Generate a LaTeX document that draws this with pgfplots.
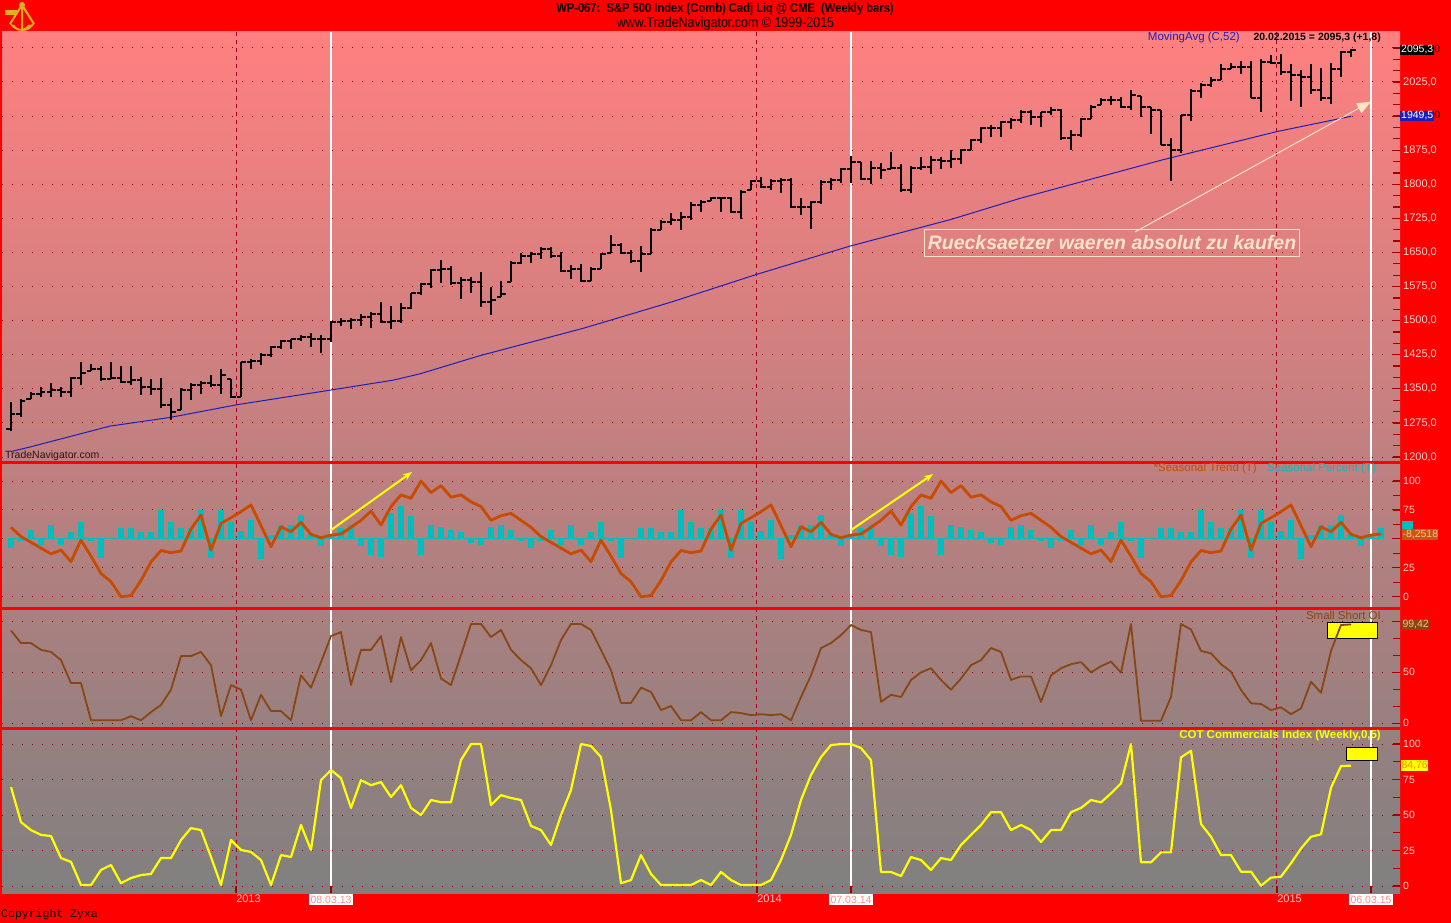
\documentclass[border=0pt]{standalone}
\usepackage{pgfplots}
\pgfplotsset{compat=1.18}
\usepackage{pgfplotstable}
\usetikzlibrary{arrows.meta}
\usepackage{fontspec}
\setmainfont{Liberation Sans}
\newfontfamily\narrowfont[FakeStretch=0.86]{Liberation Sans}
\newfontfamily\monofont{Liberation Mono}
\newcommand\fsz[1]{\fontsize{#1}{#1}\selectfont}
\setlength{\fboxsep}{1pt}

\definecolor{bgred}{RGB}{255,0,0}
\definecolor{toppink}{RGB}{255,128,128}
\definecolor{botgray}{RGB}{128,128,128}
\definecolor{tickred}{RGB}{165,0,0}
\definecolor{gridred}{RGB}{150,0,0}
\definecolor{dashred}{RGB}{170,0,30}
\definecolor{ticklab}{RGB}{255,212,212}
\definecolor{mablue}{RGB}{30,30,190}
\definecolor{seasorange}{RGB}{200,75,0}
\definecolor{seascyan}{RGB}{0,190,190}
\definecolor{oibrown}{RGB}{135,70,20}
\definecolor{cotyellow}{RGB}{255,255,0}
\definecolor{cream}{RGB}{255,228,200}
\definecolor{datepink}{RGB}{255,140,140}
\definecolor{gold}{RGB}{225,175,30}

\pgfdeclareplotmark{closetick}{%
  \pgfpathmoveto{\pgfqpoint{0pt}{0pt}}%
  \pgfpathlineto{\pgfqpoint{4.5pt}{0pt}}%
  \pgfusepathqstroke}
\pgfdeclareplotmark{opentick}{%
  \pgfpathmoveto{\pgfqpoint{0pt}{0pt}}%
  \pgfpathlineto{\pgfqpoint{-4.5pt}{0pt}}%
  \pgfusepathqstroke}

\pgfplotsset{
 panel/.style={
  scale only axis, width=1398pt,
  xmin=-0.9, xmax=138.9,
  axis line style={draw=none},
  xtick=\empty,
  ytick pos=right, yticklabel pos=right,
  tick align=inside,
  major tick length=7pt, minor tick length=7pt,
  tick style={draw=tickred, line width=1.2pt},
  ymajorgrids,
  major grid style={draw=gridred, line width=1pt, dash pattern=on 1pt off 9pt},
  yticklabel style={font=\fsz{10.5}, text=ticklab, inner sep=3pt},
  /pgf/number format/assume math mode=true,
  /pgf/number format/1000 sep={},
 }
}

\pgfplotstableread{
x o h l c
0 1262 1320 1258 1295
1 1295 1328 1287 1323
2 1328 1342 1328 1338
3 1338 1354 1333 1342
4 1342 1363 1333 1347
5 1347 1354 1333 1344
6 1344 1376 1333 1374
7 1374 1410 1358 1384
8 1390 1405 1390 1394
9 1394 1401 1367 1372
10 1372 1408 1371 1374
11 1374 1401 1364 1366
12 1366 1401 1358 1370
13 1370 1376 1336 1354
14 1354 1372 1336 1350
15 1350 1374 1307 1315
16 1315 1329 1282 1300
17 1304 1351 1304 1347
18 1347 1362 1325 1358
19 1358 1367 1338 1362
20 1362 1381 1354 1358
21 1358 1394 1338 1380
22 1372 1372 1330 1333
23 1333 1410 1333 1408
24 1408 1416 1393 1412
25 1412 1429 1403 1424
26 1424 1444 1421 1441
27 1441 1458 1437 1455
28 1455 1460 1437 1459
29 1459 1468 1455 1465
30 1465 1473 1443 1460
31 1460 1468 1429 1460
32 1460 1499 1453 1496
33 1496 1506 1489 1499
34 1499 1506 1481 1502
35 1502 1515 1489 1509
36 1509 1518 1484 1515
37 1515 1542 1495 1497
38 1497 1532 1482 1499
39 1499 1538 1494 1527
40 1527 1561 1525 1560
41 1560 1582 1556 1580
42 1580 1614 1571 1612
43 1612 1633 1582 1614
44 1614 1621 1578 1582
45 1582 1595 1547 1589
46 1589 1597 1560 1585
47 1585 1606 1529 1540
48 1540 1573 1512 1545
49 1551 1587 1551 1558
50 1584 1631 1584 1627
51 1627 1648 1624 1643
52 1643 1651 1627 1646
53 1646 1662 1635 1657
54 1657 1662 1638 1642
55 1642 1651 1607 1609
56 1609 1622 1591 1613
57 1613 1624 1584 1587
58 1587 1619 1587 1613
59 1613 1648 1613 1646
60 1649 1689 1649 1667
61 1667 1671 1646 1649
62 1649 1655 1627 1631
63 1631 1664 1606 1646
64 1646 1704 1646 1700
65 1700 1721 1700 1718
66 1718 1737 1711 1722
67 1722 1740 1700 1729
68 1729 1760 1722 1755
69 1755 1766 1740 1762
70 1764 1773 1764 1769
71 1769 1772 1740 1769
72 1769 1773 1738 1740
73 1740 1788 1724 1784
74 1788 1810 1788 1808
75 1808 1817 1791 1795
76 1795 1811 1788 1808
77 1808 1813 1780 1810
78 1810 1813 1750 1751
79 1751 1769 1733 1751
80 1751 1764 1702 1762
81 1762 1810 1757 1806
82 1806 1813 1788 1810
83 1810 1835 1802 1833
84 1833 1862 1802 1850
85 1850 1850 1809 1811
86 1811 1852 1801 1835
87 1835 1846 1811 1831
88 1833 1871 1833 1835
89 1835 1844 1784 1788
90 1788 1840 1780 1835
91 1835 1859 1831 1837
92 1837 1862 1823 1853
93 1853 1859 1833 1852
94 1852 1876 1836 1855
95 1855 1878 1844 1876
96 1876 1900 1875 1898
97 1898 1927 1891 1924
98 1924 1931 1904 1924
99 1924 1940 1905 1938
100 1938 1945 1921 1942
101 1942 1963 1934 1960
102 1960 1963 1931 1949
103 1949 1960 1927 1958
104 1958 1971 1953 1963
105 1963 1965 1897 1902
106 1902 1920 1876 1909
107 1909 1945 1905 1943
108 1943 1974 1943 1971
109 1974 1989 1974 1985
110 1985 1994 1974 1985
111 1985 1993 1967 1969
112 1969 2007 1963 1996
113 1994 1994 1949 1969
114 1969 1971 1911 1963
115 1963 1963 1887 1887
116 1887 1902 1807 1876
117 1876 1953 1868 1953
118 1953 2009 1940 2006
119 2006 2023 1989 2018
120 2018 2035 2014 2030
121 2030 2065 2030 2054
122 2054 2067 2054 2058
123 2058 2071 2043 2059
124 2059 2071 1989 1989
125 1989 2076 1960 2069
126 2069 2085 2065 2067
127 2067 2087 2040 2047
128 2047 2064 1984 2040
129 2040 2051 1971 2036
130 2036 2064 1998 2007
131 2007 2056 1984 1989
132 1989 2067 1977 2054
133 2054 2093 2036 2091
134 2091 2098 2080 2095
}\ohlc

\pgfplotstableread{
x s p
0 60 42
1 52 48
2 47 58
3 42 45
4 37 62
5 40.3 44.7
6 30.3 55.6
7 49 64.8
8 35 48
9 20 33.7
10 13 51
11 0 59.7
12 1 59.7
13 14 55.6
14 30 55.6
15 40 74.9
16 38 64.8
17 39.5 59.7
18 58.5 59.7
19 70.6 74.9
20 40.3 33.7
21 63.4 74.9
22 68.3 64.8
23 73.5 56.8
24 79.3 66.3
25 61.4 32.6
26 43.2 53.3
27 60.5 62
28 56.2 62
29 64.3 70.6
30 53.9 53.9
31 51 44.1
32 53.3 53.3
33 54.2 59.7
34 60 62
35 66 44
36 74 36
37 62 34
38 78 72
39 88 78
40 85 70
41 100 36
42 90 62
43 96 60
44 86 58
45 88 56
46 82 46
47 78 45
48 66 60
49 70 62
50 72 58
51 66 48
52 60 42
53 52 48
54 47 58
55 42 45
56 37 62
57 40.3 44.7
58 30.3 55.6
59 49 64.8
60 35 48
61 20 33.7
62 13 51
63 0 59.7
64 1 59.7
65 14 55.6
66 30 55.6
67 40 74.9
68 38 64.8
69 39.5 59.7
70 58.5 59.7
71 70.6 74.9
72 40.3 33.7
73 63.4 74.9
74 68.3 64.8
75 73.5 56.8
76 79.3 66.3
77 61.4 32.6
78 43.2 53.3
79 60.5 62
80 56.2 62
81 64.3 70.6
82 53.9 53.9
83 51 44.1
84 53.3 53.3
85 54.2 59.7
86 60 62
87 66 44
88 74 36
89 62 34
90 78 72
91 88 78
92 85 70
93 100 36
94 90 62
95 96 60
96 86 58
97 88 56
98 82 46
99 78 45
100 66 60
101 70 62
102 72 58
103 66 48
104 60 42
105 52 48
106 47 58
107 42 45
108 37 62
109 40.3 44.7
110 30.3 55.6
111 49 64.8
112 35 48
113 20 33.7
114 13 51
115 0 59.7
116 1 59.7
117 14 55.6
118 30 55.6
119 40 74.9
120 38 64.8
121 39.5 59.7
122 58.5 59.7
123 70.6 74.9
124 40.3 33.7
125 63.4 74.9
126 68.3 64.8
127 73.5 56.8
128 79.3 66.3
129 61.4 32.6
130 43.2 53.3
131 60.5 62
132 56.2 62
133 64.3 70.6
134 53.9 53.9
135 51 44.1
136 53.3 53.3
137 54.2 59.7
}\seas

\pgfplotstableread{
x oi cot
0 91 69.7
1 78.7 45
2 78.7 39.4
3 72 36
4 70 35.2
5 62 19.7
6 39.5 17
7 39.5 0.7
8 3 0.7
9 3 11.3
10 3 14.8
11 3 2
12 7 5.6
13 3 7.7
14 11 8.5
15 18 19.7
16 33 19.7
17 66 32.4
18 66 40.8
19 70 39.4
20 57 20.4
21 7 0.7
22 37.5 32.4
23 33 25.4
24 3 24
25 28 18.3
26 12 0.7
27 12 21.8
28 3 20.4
29 47 43
30 35 25.4
31 60 74.6
32 85.6 81.7
33 89.5 76
34 37.5 55
35 72 74.6
36 72 71
37 85.6 73.2
38 40.5 62.7
39 84.6 71
40 52 55
41 62 50
42 78.7 60.6
43 44 59
44 37.5 59
45 67 88.7
46 97.4 100
47 97.4 100
48 84.6 57
49 91.5 64
50 72 62
51 62 60.6
52 54 42.3
53 37.5 39.4
54 57 28.9
55 81.7 50
56 97.4 67.6
57 97.4 100
58 91.5 98.6
59 72 90.8
60 52 53.5
61 20 2
62 20 4.2
63 35 21.8
64 30.7 8.5
65 13 0.7
66 17 0.7
67 3 0.7
68 3 0.7
69 11 4.2
70 3 0.7
71 3 9.9
72 11 4.2
73 10 0.7
74 8 0.7
75 9 0.7
76 8 4.2
77 9 18.3
78 3 36
79 25.8 60.6
80 47 78.2
81 73.8 90.8
82 78.7 99.3
83 86.5 100
84 96.4 100
85 91.5 97.2
86 89.5 88.7
87 21 9.9
88 28 9.9
89 25.8 7
90 42.5 20.4
91 50 18.3
92 54 11.3
93 42.5 19.7
94 33 18.3
95 44 28.9
96 57 36
97 62 43
98 73.8 52
99 70 52
100 42.5 39.4
101 46 43
102 46 39.4
103 21 31
104 47 39.4
105 54 39.4
106 58 52
107 60 55
108 50 60.6
109 56 58.9
110 60.5 65.3
111 49.7 72.3
112 97.4 100
113 2.6 16.7
114 2.6 16.7
115 2.6 23.7
116 26 23.7
117 97.4 90.6
118 92 95.3
119 71 43.7
120 68.6 34.7
121 58 21.8
122 50.6 21.8
123 32.7 10.1
124 19.6 10.1
125 19 0.2
126 13 5.9
127 15.7 6.6
128 9 16
129 14.7 26.5
130 40.8 34.7
131 30 36.4
132 71 69.2
133 96.4 84.5
134 97 84.76
}\ind

\begin{document}
\begin{tikzpicture}
% frame and panel backgrounds
\fill[bgred] (0pt,0pt) rectangle (1451pt,-923pt);
\shade[top color=toppink, bottom color=botgray] (2pt,-32pt) rectangle (1400pt,-893pt);
% sextant logo
\fill[gold] (10pt,-24pt) arc[start angle=210, end angle=330, radius=14pt] -- (28pt,-25pt) arc[start angle=330, end angle=210, radius=8pt] -- cycle;
\draw[gold, line width=2pt] (22pt,-5pt) -- (10pt,-24pt) (22pt,-5pt) -- (34pt,-24pt) (22pt,-5pt) -- (22pt,-31pt);
\fill[gold] (5pt,-10pt) rectangle (17pt,-15pt);
\fill[gold] (22pt,-5pt) circle (3pt);
% year boundaries and date markers
\foreach \xx in {236.5,756.5,1276.5}
  \draw[dashred, line width=1pt, dash pattern=on 4pt off 4pt] (\xx pt,-32pt) -- (\xx pt,-893pt);
\foreach \xx in {331,851,1371}
  \draw[white, line width=2pt] (\xx pt,-32pt) -- (\xx pt,-893pt);
% panel separators
\fill[bgred] (0pt,-461pt) rectangle (1400pt,-464pt);
\fill[bgred] (0pt,-607pt) rectangle (1400pt,-610pt);
\fill[bgred] (0pt,-727pt) rectangle (1400pt,-730pt);
% marker boxes
\filldraw[fill=cotyellow, draw=black, line width=1pt] (1327pt,-622pt) rectangle (1377pt,-638pt);
\filldraw[fill=cotyellow, draw=black, line width=1pt] (1346pt,-747pt) rectangle (1377pt,-760pt);

% ===== price panel =====
\begin{axis}[panel, at={(2pt,-32pt)}, anchor=north west, height=429pt,
  ymin=1191.2, ymax=2135,
  ytick={1200,1275,...,2100}, minor y tick num=2,
  yticklabels={{1200,0},{1275,0},{1350,0},{1425,0},{1500,0},{1575,0},{1650,0},{1725,0},{1800,0},{1875,0},{},{2025,0},{}},
  yticklabel style={font=\fsz{11}},
]
\addplot[mablue, line width=1pt] coordinates {(0,1212) (1.9,1222) (9.9,1268) (15.9,1287) (22.6,1315) (31.9,1347) (38.2,1369) (40.9,1383) (46.9,1423) (57.2,1483) (65.9,1540) (74.6,1602) (83.9,1664) (93.9,1722) (100.9,1769) (115.2,1854) (126.6,1916) (134,1949.5)};
\addplot[draw=none, mark=none,
  error bars/.cd, y dir=both, y explicit, error mark=none,
  error bar style={draw=black, line width=2.8pt}]
  table[x=x, y=c, y error plus expr={\thisrow{h}-\thisrow{c}}, y error minus expr={\thisrow{c}-\thisrow{l}}] {\ohlc};
\addplot[only marks, mark=closetick, mark options={draw=black, line width=2pt}] table[x=x, y=c] {\ohlc};
\addplot[only marks, mark=opentick, mark options={draw=black, line width=2pt}] table[x=x, y=o] {\ohlc};
\draw[cream, line width=1pt, -{Triangle[length=14pt,width=11pt]}] (axis cs:112.4,1695) -- (axis cs:136,1982);
\node[draw=cream, line width=0.8pt, text=cream, font=\bfseries\itshape\fsz{19.5}, inner xsep=3pt, inner ysep=0pt, minimum height=27pt] at (axis cs:110.1,1670.8) {Ruecksaetzer waeren absolut zu kaufen};
\end{axis}

% ===== seasonal panel =====
\begin{axis}[panel, at={(2pt,-464pt)}, anchor=north west, height=143pt,
  ymin=-8.9, ymax=114.7, ytick={0,25,...,100}, yticklabels={0,25,{},75,100}, minor y tick num=1]
\addplot[seascyan, line width=0.8pt, mark=none] coordinates {(-0.3,50) (137.3,50)};
\addplot[draw=none, mark=none,
  error bars/.cd, y dir=both, y explicit, error mark=none,
  error bar style={draw=seascyan, line width=6.5pt}]
  table[x=x, y expr=50, y error plus expr={max(\thisrow{p}-50,0)}, y error minus expr={max(50-\thisrow{p},0)}] {\seas};
\addplot[seasorange, line width=2.8pt, line join=round, mark=none] table[x=x, y=s] {\seas};
\draw[cotyellow, line width=2pt, -{Stealth[length=9pt,width=7pt]}] (axis cs:32,57.6) -- (axis cs:40.1,107.8);
\draw[cotyellow, line width=2pt, -{Stealth[length=9pt,width=7pt]}] (axis cs:84,57.6) -- (axis cs:92.2,106);
\end{axis}

% ===== small short OI panel =====
\begin{axis}[panel, at={(2pt,-610pt)}, anchor=north west, height=117pt,
  ymin=-3.6, ymax=111.1, ytick={0,50,100}, yticklabels={0,50,{}}, minor y tick num=2]
\addplot[oibrown, line width=1.8pt, line join=round, mark=none] table[x=x, y=oi] {\ind};
\end{axis}

% ===== COT panel =====
\begin{axis}[panel, at={(2pt,-730pt)}, anchor=north west, height=163pt,
  ymin=-4.93, ymax=109.9, ytick={0,25,...,100}, minor y tick num=1,
  xtick={22.5,74.6,126.6}, xticklabels={2013,2014,2015}, xtick pos=bottom,
  xticklabel style={anchor=north, font=\fsz{11}, text=ticklab, inner sep=2pt, xshift=12.5pt},
  extra x ticks={32,84,136},
  extra x tick labels={08.03.13,07.03.14,06.03.15},
  extra x tick style={xticklabel style={fill=white, text=datepink, inner sep=1.5pt, font=\fsz{10.5}, xshift=-12.5pt, yshift=-1pt}},
]
\addplot[cotyellow, line width=2.2pt, line join=round, mark=none] table[x=x, y=cot] {\ind};
\end{axis}

% ===== value boxes on the right scale =====
\node[anchor=west, inner sep=0pt, font=\fsz{10.5}] at (1400pt,-50pt) {\colorbox{black}{\textcolor{white}{2095,3}}\textcolor{black}{0}};
\node[anchor=west, inner sep=0pt, font=\fsz{10.5}] at (1400pt,-116pt) {\colorbox{mablue}{\textcolor{white}{1949,5}}\textcolor{black}{0}};
\fill[seascyan] (1402pt,-521pt) rectangle (1413pt,-529pt);
\node[anchor=west, fill={rgb,255:red,200;green,85;blue,20}, text={rgb,255:red,255;green,190;blue,150}, inner xsep=0.3pt, inner ysep=1pt, font=\fsz{10.5}] at (1402pt,-534.5pt) {-8,2518};
\node[anchor=west, fill=oibrown, text={rgb,255:red,255;green,185;blue,120}, inner xsep=0.3pt, inner ysep=1pt, font=\fsz{10.5}] at (1402pt,-624.5pt) {99,42};
\node[anchor=west, fill=cotyellow, text={rgb,255:red,255;green,140;blue,0}, inner xsep=0.3pt, inner ysep=1pt, font=\fsz{10.5}] at (1401pt,-765.5pt) {84,76};

% ===== texts =====
\node[inner sep=0pt, font=\narrowfont\bfseries\fsz{13}] at (725pt,-9pt) {WP-067:\ \ S\&P 500 Index (Comb) Cadj Liq @ CME\ \ (Weekly bars)};
\node[inner sep=0pt, font=\narrowfont\fsz{14.5}] at (725.5pt,-24pt) {www.TradeNavigator.com © 1999-2015};
\node[anchor=east, inner sep=0pt, text=mablue, font=\fsz{11.5}] at (1240pt,-37.5pt) {MovingAvg (C,52)};
\node[anchor=east, inner sep=0pt, font=\bfseries\fsz{10.5}] at (1381pt,-37.5pt) {20.02.2015 = 2095,3 (+1,8)};
\node[anchor=west, inner sep=0pt, text={rgb,255:red,50;green,20;blue,20}, font=\fsz{10.5}] at (5pt,-455.5pt) {TradeNavigator.com};
\node[anchor=east, inner sep=0pt, text=seasorange, font=\fsz{11.5}] at (1257pt,-469pt) {*Seasonal Trend (T)};
\node[anchor=west, inner sep=0pt, text=seascyan, font=\fsz{11.5}] at (1267pt,-469pt) {Seasonal Percent (T)};
\node[anchor=east, inner sep=0pt, text=oibrown, font=\fsz{11.5}] at (1381pt,-615pt) {Small Short OI};
\node[anchor=east, inner sep=0pt, text=cotyellow, font=\bfseries\fsz{11.5}] at (1381pt,-735.5pt) {COT Commercials Index (Weekly,0,5)};
\node[anchor=west, inner sep=0pt, font=\monofont\fsz{11.5}] at (1pt,-915pt) {Copyright Zyxa};

\pgfresetboundingbox
\path (0pt,0pt) rectangle (1451pt,-923pt);
\end{tikzpicture}
\end{document}
